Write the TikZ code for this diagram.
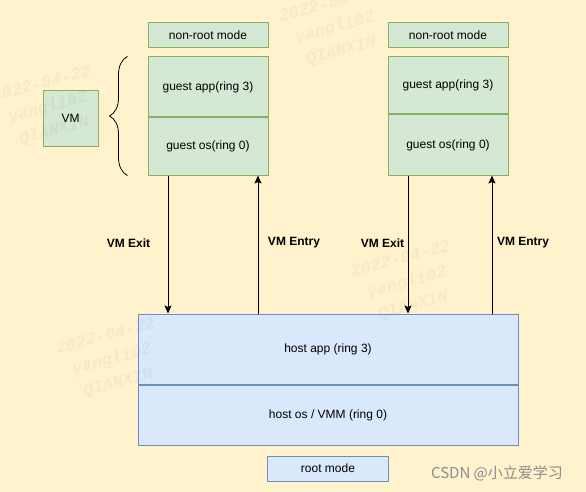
\documentclass[tikz,border=0pt]{standalone}
\usepackage{fontspec}
\setmainfont{Liberation Sans}
\newfontfamily\cjk{Noto Sans CJK SC}
\newfontfamily\wmfont{Liberation Mono}
\usetikzlibrary{positioning,arrows.meta,decorations.pathreplacing}
\definecolor{bgyellow}{HTML}{FFF2CC}
\definecolor{vmfill}{HTML}{D5E8D4}
\definecolor{vmline}{HTML}{82B366}
\definecolor{hostfill}{HTML}{DAE8FC}
\definecolor{hostline}{HTML}{6C8EBF}

\begin{document}
\begin{tikzpicture}[x=1pt,y=-1pt,font=\fontsize{12}{14}\selectfont]
\tikzstyle{guest}=[draw=vmline,fill=vmfill,line width=1pt,minimum width=120pt,inner sep=0pt]
\tikzstyle{host}=[draw=hostline,fill=hostfill,line width=1pt,inner sep=0pt]
\tikzstyle{flow}=[-{Stealth[length=8pt,width=7pt,inset=1.5pt]},line width=1pt]
\tikzstyle{lbl}=[font=\fontsize{12}{14}\selectfont\bfseries]
\tikzstyle{wmark}=[font=\wmfont\bfseries\itshape\fontsize{17}{24}\selectfont,rotate=15,align=center,text=black,text opacity=0.035]
\fill[bgyellow] (0,0) rectangle (586,492);
\useasboundingbox (0,0) rectangle (586,492);

% left vm
\node[guest,minimum height=60pt] (gapp1) at (208,87) {guest app(ring 3)};
\node[guest,minimum height=57pt,below=0pt of gapp1] (gos1) {guest os(ring 0)};
\node[guest,minimum height=25pt,above=8pt of gapp1] (nonroot1) {non-root mode};
\node[guest,minimum width=55pt,minimum height=55pt] (vm) at (70.5,118.5) {VM};
\draw[line width=0.8pt,decorate,decoration={brace,amplitude=18pt}]
  ([xshift=-20pt]gos1.south west) -- ([xshift=-20pt]gapp1.north west);

% right vm
\node[guest,minimum height=57pt] (gapp2) at (448,85.5) {guest app(ring 3)};
\node[guest,minimum height=60pt,below=0pt of gapp2] (gos2) {guest os(ring 0)};
\node[guest,minimum height=25pt,above=8pt of gapp2] (nonroot2) {non-root mode};

% host
\node[host,minimum width=380pt,minimum height=70pt] (happ) at (328,349) {host app (ring 3)};
\node[host,minimum width=380pt,minimum height=60pt,below=0pt of happ] (hos) {host os / VMM (ring 0)};
\node[host,minimum width=121pt,minimum height=25pt,below=10pt of hos] (root) {root mode};

% transitions
\draw[flow] ([xshift=-40pt]gos1.south) -- ([xshift=-40pt]gos1.south |- happ.north);
\draw[flow] ([xshift=50pt]gos1.south |- happ.north) -- ([xshift=50pt]gos1.south);
\draw[flow] ([xshift=-40pt]gos2.south) -- ([xshift=-40pt]gos2.south |- happ.north);
\draw[flow] ([xshift=44pt]gos2.south |- happ.north) -- ([xshift=44pt]gos2.south);
\node[lbl] (exit1) at (128.5,243) {VM Exit};
\node[lbl] (entry1) at (294,243) {VM Entry};
\node[lbl] (exit2) at (382.5,243) {VM Exit};
\node[lbl] (entry2) at (523,243) {VM Entry};

% watermarks
\node[wmark] (wm1) at (48,108) {2022-04-22\\yangli02\\QIANXIN};
\node[wmark] (wm2) at (335,28) {2022-04-22\\yangli02\\QIANXIN};
\node[wmark] (wm3) at (407,283) {2022-04-22\\yangli02\\QIANXIN};
\node[wmark] (wm4) at (112,360) {2022-04-22\\yangli02\\QIANXIN};
\node[text=black!45,font=\cjk\fontsize{15}{18}\selectfont] (csdn) at (497,473) {CSDN @小立爱学习};
\end{tikzpicture}
\end{document}
